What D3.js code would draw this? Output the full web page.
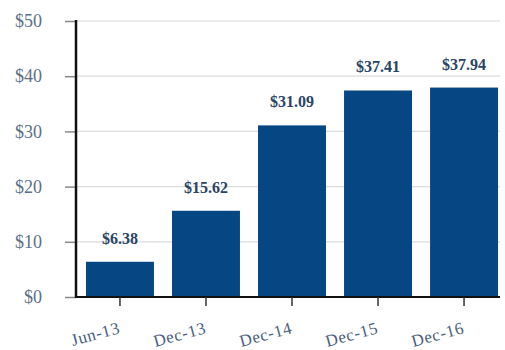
<!DOCTYPE html>
<html><head><meta charset="utf-8">
<script src="https://cdn.jsdelivr.net/npm/d3@7"></script>
<style>body{margin:0;background:#fff}svg{display:block}</style>
</head><body><svg id="c" width="505" height="350"></svg>
<script>
const categories = ["Jun-13","Dec-13","Dec-14","Dec-15","Dec-16"];
const values = [6.38,15.62,31.09,37.41,37.94];
const yTicks = [0,10,20,30,40,50];

const svg = d3.select("#c");
const x = d3.scaleBand().domain(categories).range([76,508]).paddingInner(0.21).paddingOuter(0.116);
const y = d3.scaleLinear().domain([0,50]).range([297,21]);
const serif = "'Liberation Serif','Times New Roman',serif";

// grid
svg.append("g").selectAll("line").data(yTicks.filter(d=>d>0)).join("line")
  .attr("x1",76).attr("x2",500).attr("y1",d=>y(d)).attr("y2",d=>y(d))
  .attr("stroke","#dcdcdc").attr("stroke-width",1.2);

// y axis
const ya = svg.append("g").attr("transform","translate(76,0)")
  .call(d3.axisLeft(y).tickValues(yTicks).tickSize(11).tickPadding(23).tickFormat(d=>"$"+d));
ya.select(".domain").remove();
ya.selectAll(".tick line").attr("stroke","#888").attr("stroke-width",1.5);
ya.selectAll("text").attr("font-family",serif).attr("font-size",18).attr("fill","#5b7088");

// bars
svg.append("g").selectAll("rect").data(values).join("rect")
  .attr("x",(d,i)=>x(categories[i])).attr("width",x.bandwidth())
  .attr("y",d=>y(d)).attr("height",d=>y(0)-y(d)).attr("fill","#064682");

// value labels
svg.append("g").selectAll("text").data(values).join("text")
  .attr("x",(d,i)=>x(categories[i])+x.bandwidth()/2).attr("y",d=>y(d)-18)
  .attr("text-anchor","middle").attr("font-family",serif).attr("font-weight","bold")
  .attr("font-size",16).attr("fill","#2a4466").text(d=>"$"+d.toFixed(2));

// x axis
const xa = svg.append("g").attr("transform","translate(0,297)")
  .call(d3.axisBottom(x).tickSize(9).tickSizeOuter(0));
xa.select(".domain").attr("d","M76,0H500").attr("stroke","#111").attr("stroke-width",2);
xa.selectAll(".tick line").attr("stroke","#333").attr("stroke-width",1.5);
xa.selectAll("text").attr("font-family",serif).attr("font-size",17).attr("fill","#4a6080")
  .attr("letter-spacing",0.6)
  .attr("text-anchor","end").attr("dy",0).attr("y",0)
  .attr("transform","translate(1,36) rotate(-15)");

// y axis line
svg.append("line").attr("x1",76).attr("x2",76).attr("y1",20).attr("y2",298)
  .attr("stroke","#111").attr("stroke-width",2.5);
</script></body></html>
